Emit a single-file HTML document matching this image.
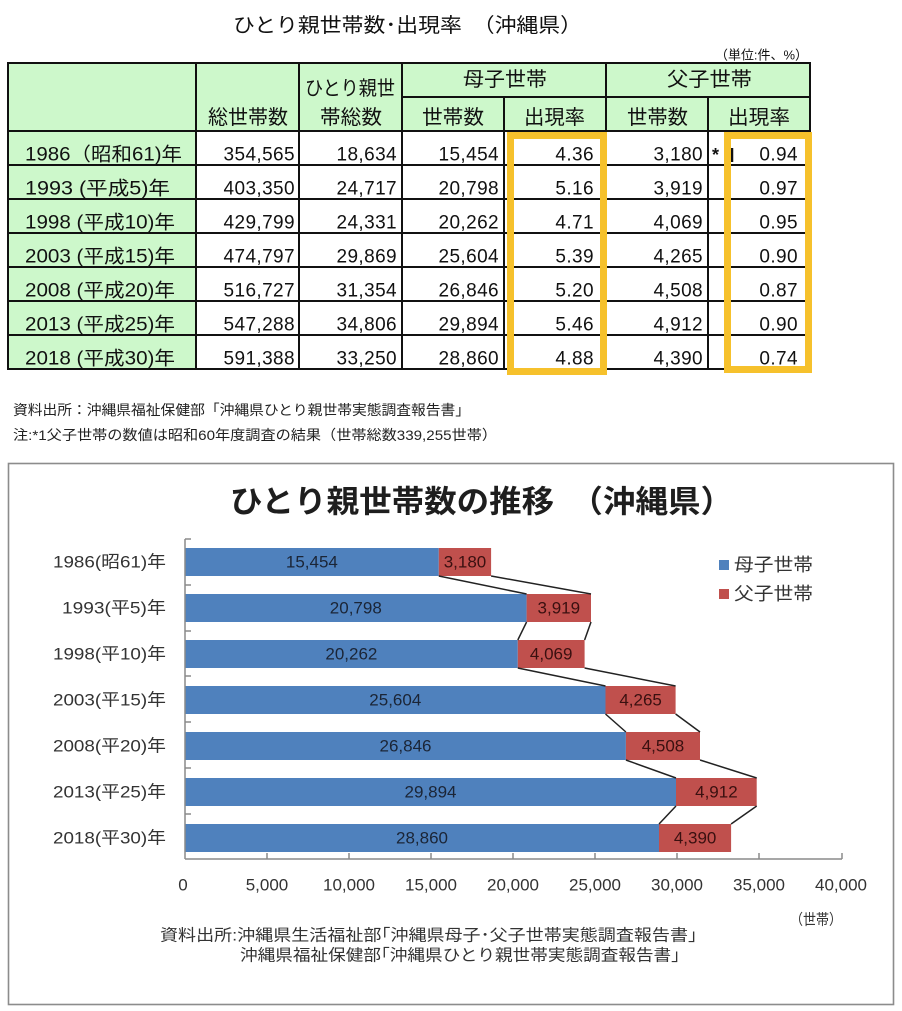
<!DOCTYPE html>
<html><head><meta charset="utf-8"><style>
html,body{margin:0;padding:0;background:#fff;}
svg{display:block;}
text{font-family:"Liberation Sans","Noto Sans CJK JP",sans-serif;}
</style></head><body>
<svg width="902" height="1011" viewBox="0 0 902 1011" xmlns="http://www.w3.org/2000/svg">
<!-- Top title -->
<text x="233" y="26" font-size="20" fill="#111" dominant-baseline="central" textLength="349" lengthAdjust="spacingAndGlyphs">ひとり親世帯数･出現率　（沖縄県）</text>
<text x="715" y="55" font-size="13" fill="#111" dominant-baseline="central" textLength="93" lengthAdjust="spacingAndGlyphs">（単位:件、%）</text>

<!-- Table fills -->
<rect x="8" y="63" width="802" height="68" fill="#cdf8cb"/>
<rect x="8" y="131" width="188" height="238" fill="#cdf8cb"/>

<!-- Table lines -->
<g stroke="#111" stroke-width="2" fill="none">
<rect x="8" y="63" width="802" height="306"/>
<line x1="402" y1="97" x2="810" y2="97"/>
<line x1="8" y1="131" x2="810" y2="131"/>
<line x1="8" y1="165" x2="810" y2="165"/>
<line x1="8" y1="199" x2="810" y2="199"/>
<line x1="8" y1="233" x2="810" y2="233"/>
<line x1="8" y1="267" x2="810" y2="267"/>
<line x1="8" y1="301" x2="810" y2="301"/>
<line x1="8" y1="335" x2="810" y2="335"/>
<line x1="196" y1="63" x2="196" y2="369"/>
<line x1="299" y1="63" x2="299" y2="369"/>
<line x1="402" y1="63" x2="402" y2="369"/>
<line x1="504" y1="97" x2="504" y2="369"/>
<line x1="606" y1="63" x2="606" y2="369"/>
<line x1="708" y1="97" x2="708" y2="369"/>
</g>

<!-- Header text -->
<g font-size="20" fill="#111" dominant-baseline="central">
<text x="463" y="80" textLength="84" lengthAdjust="spacingAndGlyphs">母子世帯</text>
<text x="667" y="80" textLength="85" lengthAdjust="spacingAndGlyphs">父子世帯</text>
<text x="208" y="118" textLength="80" lengthAdjust="spacingAndGlyphs">総世帯数</text>
<text x="305" y="89" textLength="90" lengthAdjust="spacingAndGlyphs">ひとり親世</text>
<text x="320" y="118" textLength="62" lengthAdjust="spacingAndGlyphs">帯総数</text>
<text x="422" y="118" textLength="62" lengthAdjust="spacingAndGlyphs">世帯数</text>
<text x="524" y="118" textLength="61" lengthAdjust="spacingAndGlyphs">出現率</text>
<text x="627" y="118" textLength="61" lengthAdjust="spacingAndGlyphs">世帯数</text>
<text x="728" y="118" textLength="62" lengthAdjust="spacingAndGlyphs">出現率</text>
</g>

<!-- Row labels -->
<g font-size="19" fill="#111" dominant-baseline="central">
<text x="25" y="155" textLength="157" lengthAdjust="spacingAndGlyphs">1986（昭和61)年</text>
<text x="25" y="189" textLength="145" lengthAdjust="spacingAndGlyphs">1993 (平成5)年</text>
<text x="25" y="223" textLength="150" lengthAdjust="spacingAndGlyphs">1998 (平成10)年</text>
<text x="25" y="257" textLength="150" lengthAdjust="spacingAndGlyphs">2003 (平成15)年</text>
<text x="25" y="291" textLength="150" lengthAdjust="spacingAndGlyphs">2008 (平成20)年</text>
<text x="25" y="325" textLength="150" lengthAdjust="spacingAndGlyphs">2013 (平成25)年</text>
<text x="25" y="359" textLength="150" lengthAdjust="spacingAndGlyphs">2018 (平成30)年</text>
</g>

<!-- Numbers -->
<g font-size="19" fill="#111" dominant-baseline="central" text-anchor="end" letter-spacing="0.4">
<text x="295" y="155">354,565</text><text x="397" y="155">18,634</text><text x="499" y="155">15,454</text><text x="594" y="155">4.36</text><text x="703" y="155">3,180</text><text x="798" y="155">0.94</text>
<text x="295" y="189">403,350</text><text x="397" y="189">24,717</text><text x="499" y="189">20,798</text><text x="594" y="189">5.16</text><text x="703" y="189">3,919</text><text x="798" y="189">0.97</text>
<text x="295" y="223">429,799</text><text x="397" y="223">24,331</text><text x="499" y="223">20,262</text><text x="594" y="223">4.71</text><text x="703" y="223">4,069</text><text x="798" y="223">0.95</text>
<text x="295" y="257">474,797</text><text x="397" y="257">29,869</text><text x="499" y="257">25,604</text><text x="594" y="257">5.39</text><text x="703" y="257">4,265</text><text x="798" y="257">0.90</text>
<text x="295" y="291">516,727</text><text x="397" y="291">31,354</text><text x="499" y="291">26,846</text><text x="594" y="291">5.20</text><text x="703" y="291">4,508</text><text x="798" y="291">0.87</text>
<text x="295" y="325">547,288</text><text x="397" y="325">34,806</text><text x="499" y="325">29,894</text><text x="594" y="325">5.46</text><text x="703" y="325">4,912</text><text x="798" y="325">0.90</text>
<text x="295" y="359">591,388</text><text x="397" y="359">33,250</text><text x="499" y="359">28,860</text><text x="594" y="359">4.88</text><text x="703" y="359">4,390</text><text x="798" y="359">0.74</text>
</g>
<text x="712" y="155" font-size="18" font-weight="bold" fill="#111" dominant-baseline="central">*</text>
<line x1="732" y1="148" x2="732" y2="162" stroke="#111" stroke-width="2.5"/>

<!-- Yellow boxes -->
<g stroke="#f6c12c" stroke-width="7" fill="none">
<rect x="510.5" y="135.5" width="93" height="236"/>
<rect x="727.5" y="135.5" width="81" height="234"/>
</g>

<!-- Footnotes -->
<g font-size="14" fill="#222" dominant-baseline="central">
<text x="13" y="410" textLength="457" lengthAdjust="spacingAndGlyphs">資料出所：沖縄県福祉保健部「沖縄県ひとり親世帯実態調査報告書」</text>
<text x="13" y="435" textLength="484" lengthAdjust="spacingAndGlyphs">注:*1父子世帯の数値は昭和60年度調査の結果（世帯総数339,255世帯）</text>
</g>

<!-- Chart box -->
<rect x="8.5" y="463.5" width="885" height="541" fill="#fff" stroke="#8c8c8c" stroke-width="1.6"/>
<text x="230" y="502" font-size="31" font-weight="bold" fill="#1e1e1e" dominant-baseline="central" textLength="503" lengthAdjust="spacingAndGlyphs">ひとり親世帯数の推移　（沖縄県）</text>

<!-- Bars -->
<g>
<rect x="185" y="548" width="253.8" height="28" fill="#4f81bd"/><rect x="438.8" y="548" width="52.3" height="28" fill="#c0504d"/>
<rect x="185" y="594" width="341.6" height="28" fill="#4f81bd"/><rect x="526.6" y="594" width="64.4" height="28" fill="#c0504d"/>
<rect x="185" y="640" width="332.8" height="28" fill="#4f81bd"/><rect x="517.8" y="640" width="66.8" height="28" fill="#c0504d"/>
<rect x="185" y="686" width="420.5" height="28" fill="#4f81bd"/><rect x="605.5" y="686" width="70.1" height="28" fill="#c0504d"/>
<rect x="185" y="732" width="440.9" height="28" fill="#4f81bd"/><rect x="625.9" y="732" width="74.1" height="28" fill="#c0504d"/>
<rect x="185" y="778" width="491.0" height="28" fill="#4f81bd"/><rect x="676.0" y="778" width="80.7" height="28" fill="#c0504d"/>
<rect x="185" y="824" width="474.0" height="28" fill="#4f81bd"/><rect x="659.0" y="824" width="72.1" height="28" fill="#c0504d"/>
</g>

<!-- Series lines -->
<g stroke="#222" stroke-width="1.5" fill="none">
<polyline points="438.8,576 526.6,594"/><polyline points="491.1,576 591.0,594"/>
<polyline points="526.6,622 517.8,640"/><polyline points="591.0,622 584.6,640"/>
<polyline points="517.8,668 605.5,686"/><polyline points="584.6,668 675.6,686"/>
<polyline points="605.5,714 625.9,732"/><polyline points="675.6,714 700.0,732"/>
<polyline points="625.9,760 676.0,778"/><polyline points="700.0,760 756.7,778"/>
<polyline points="676.0,806 659.0,824"/><polyline points="756.7,806 731.1,824"/>
</g>

<!-- Axes -->
<g stroke="#8a8a8a" stroke-width="1.5" fill="none">
<line x1="185" y1="539" x2="185" y2="859"/>
<line x1="185" y1="859" x2="842" y2="859"/>
<line x1="185" y1="539" x2="191" y2="539"/><line x1="185" y1="585" x2="191" y2="585"/><line x1="185" y1="631" x2="191" y2="631"/><line x1="185" y1="676" x2="191" y2="676"/><line x1="185" y1="722" x2="191" y2="722"/><line x1="185" y1="768" x2="191" y2="768"/><line x1="185" y1="814" x2="191" y2="814"/>
<line x1="267" y1="853" x2="267" y2="859"/><line x1="349" y1="853" x2="349" y2="859"/><line x1="431" y1="853" x2="431" y2="859"/><line x1="513" y1="853" x2="513" y2="859"/><line x1="595" y1="853" x2="595" y2="859"/><line x1="677" y1="853" x2="677" y2="859"/><line x1="759" y1="853" x2="759" y2="859"/><line x1="842" y1="853" x2="842" y2="859"/>
</g>

<!-- Bar labels -->
<g font-size="17" fill="#1b2536" dominant-baseline="central" text-anchor="middle">
<text x="311.9" y="562">15,454</text>
<text x="355.8" y="608">20,798</text>
<text x="351.4" y="654">20,262</text>
<text x="395.3" y="700">25,604</text>
<text x="405.5" y="746">26,846</text>
<text x="430.5" y="792">29,894</text>
<text x="422.0" y="838">28,860</text>
</g>
<g font-size="17" fill="#3a1010" dominant-baseline="central" text-anchor="middle">
<text x="465" y="562">3,180</text>
<text x="558.8" y="608">3,919</text>
<text x="551.2" y="654">4,069</text>
<text x="640.6" y="700">4,265</text>
<text x="663.0" y="746">4,508</text>
<text x="716.4" y="792">4,912</text>
<text x="695.1" y="838">4,390</text>
</g>

<!-- Category labels -->
<g font-size="17" fill="#333" dominant-baseline="central" text-anchor="end">
<text x="166" y="562" textLength="113" lengthAdjust="spacingAndGlyphs">1986(昭61)年</text>
<text x="166" y="608" textLength="104" lengthAdjust="spacingAndGlyphs">1993(平5)年</text>
<text x="166" y="654" textLength="113" lengthAdjust="spacingAndGlyphs">1998(平10)年</text>
<text x="166" y="700" textLength="113" lengthAdjust="spacingAndGlyphs">2003(平15)年</text>
<text x="166" y="746" textLength="113" lengthAdjust="spacingAndGlyphs">2008(平20)年</text>
<text x="166" y="792" textLength="113" lengthAdjust="spacingAndGlyphs">2013(平25)年</text>
<text x="166" y="838" textLength="113" lengthAdjust="spacingAndGlyphs">2018(平30)年</text>
</g>

<!-- X tick labels -->
<g font-size="17" fill="#333" dominant-baseline="central" text-anchor="middle">
<text x="183" y="885">0</text>
<text x="267" y="885">5,000</text>
<text x="349" y="885">10,000</text>
<text x="431" y="885">15,000</text>
<text x="513" y="885">20,000</text>
<text x="595" y="885">25,000</text>
<text x="677" y="885">30,000</text>
<text x="759" y="885">35,000</text>
<text x="841" y="885">40,000</text>
</g>
<text x="790" y="920" font-size="15" fill="#333" dominant-baseline="central" textLength="52" lengthAdjust="spacingAndGlyphs">（世帯）</text>

<!-- Legend -->
<rect x="719" y="560" width="10" height="10" fill="#4f81bd"/>
<rect x="719" y="589" width="10" height="10" fill="#c0504d"/>
<g font-size="18" fill="#333" dominant-baseline="central">
<text x="734" y="565" textLength="79" lengthAdjust="spacingAndGlyphs">母子世帯</text>
<text x="734" y="594" textLength="79" lengthAdjust="spacingAndGlyphs">父子世帯</text>
</g>

<!-- Source -->
<g font-size="16" fill="#333" dominant-baseline="central">
<text x="160" y="936" textLength="537" lengthAdjust="spacingAndGlyphs">資料出所:沖縄県生活福祉部｢沖縄県母子･父子世帯実態調査報告書｣</text>
<text x="240" y="956" textLength="440" lengthAdjust="spacingAndGlyphs">沖縄県福祉保健部｢沖縄県ひとり親世帯実態調査報告書｣</text>
</g>
</svg>
</body></html>
